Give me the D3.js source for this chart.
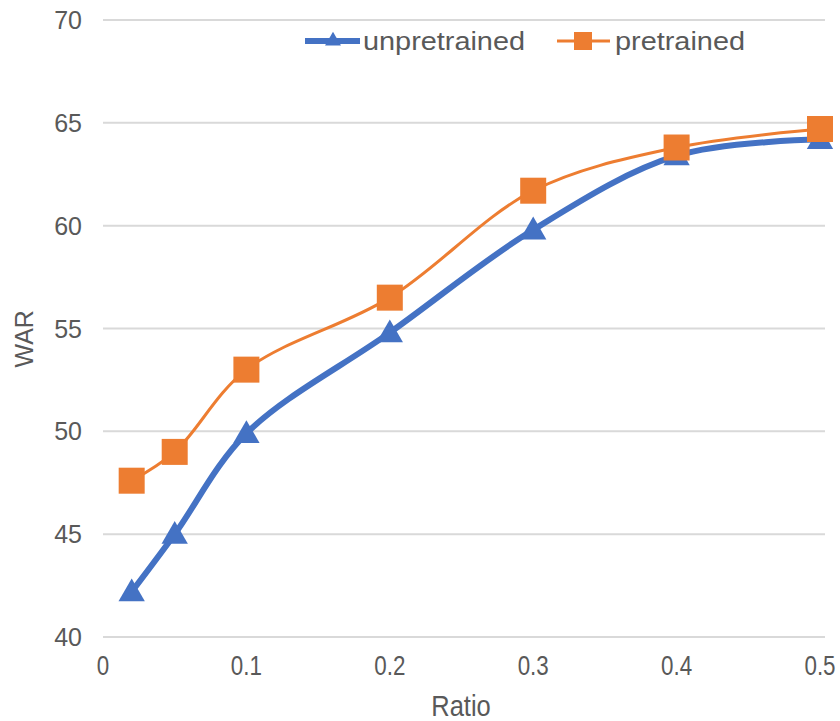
<!DOCTYPE html>
<html>
<head>
<meta charset="utf-8">
<script src="https://cdn.jsdelivr.net/npm/d3@7"></script>
<style>
  body { margin: 0; background: #fff; }
  text { font-family: "Liberation Sans", Arial, sans-serif; fill: #595959; }
</style>
</head>
<body>
<svg id="chart"></svg>
<script>
// Data
const ratios = [0.02, 0.05, 0.1, 0.2, 0.3, 0.4, 0.5];
const unpretrained = [42.2, 45.0, 49.9, 54.8, 59.8, 63.4, 64.2];
const pretrained = [47.6, 49.0, 53.0, 56.5, 61.7, 63.8, 64.7];
const xTicks = [0, 0.1, 0.2, 0.3, 0.4, 0.5];
const yTicks = [40, 45, 50, 55, 60, 65, 70];

const W = 840, H = 721;
const margin = { top: 20, right: 20, bottom: 84, left: 103 };
const width = W - margin.left - margin.right;
const height = H - margin.top - margin.bottom;

const svg = d3.select("#chart")
    .attr("width", W)
    .attr("height", H)
    .append("g")
    .attr("transform", `translate(${margin.left},${margin.top})`);

const x = d3.scaleLinear().domain([0, 0.5]).range([0, 717]);
const y = d3.scaleLinear().domain([40, 70]).range([height, 0]);

// Gridlines
svg.selectAll(".grid")
    .data(yTicks)
    .enter()
    .append("line")
    .attr("x1", 0)
    .attr("x2", 722)
    .attr("y1", d => y(d))
    .attr("y2", d => y(d))
    .attr("stroke", "#d9d9d9")
    .attr("stroke-width", 2);

// Y tick labels
svg.selectAll(".ylab")
    .data(yTicks)
    .enter()
    .append("text")
    .attr("x", -21)
    .attr("y", d => y(d))
    .attr("dy", "0.36em")
    .attr("text-anchor", "end")
    .style("font-size", "25px")
    .text(d => d);

// X tick labels (narrow font in the original)
svg.selectAll(".xlab")
    .data(xTicks)
    .enter()
    .append("text")
    .attr("x", d => x(d))
    .attr("y", height + 38)
    .attr("text-anchor", "middle")
    .style("font-size", "28px")
    .attr("transform", d => `translate(${x(d)},0) scale(0.8,1) translate(${-x(d)},0)`)
    .text(d => d);

// Axis titles
svg.append("text")
    .attr("transform", `translate(358,${height + 79}) scale(0.85,1)`)
    .attr("text-anchor", "middle")
    .style("font-size", "30px")
    .text("Ratio");

svg.append("text")
    .attr("transform", `translate(${-70},${y(54.5)}) rotate(-90)`)
    .attr("text-anchor", "middle")
    .style("font-size", "25px")
    .text("WAR");

const line = d3.line()
    .x((d, i) => x(ratios[i]))
    .y(d => y(d))
    .curve(d3.curveCatmullRom.alpha(0.5));

const blue = "#4472C4", orange = "#ED7D31";
const triangle = d3.symbol().type(d3.symbolTriangle).size(300);

// Unpretrained series
svg.append("path")
    .datum(unpretrained)
    .attr("d", line)
    .attr("fill", "none")
    .attr("stroke", blue)
    .attr("stroke-width", 6);

svg.selectAll(".tri")
    .data(unpretrained)
    .enter()
    .append("path")
    .attr("d", triangle)
    .attr("transform", (d, i) => `translate(${x(ratios[i])},${y(d) + 2})`)
    .attr("fill", blue);

// Pretrained series
svg.append("path")
    .datum(pretrained)
    .attr("d", line)
    .attr("fill", "none")
    .attr("stroke", orange)
    .attr("stroke-width", 3);

svg.selectAll(".sq")
    .data(pretrained)
    .enter()
    .append("rect")
    .attr("x", (d, i) => x(ratios[i]) - 13)
    .attr("y", d => y(d) - 13)
    .attr("width", 26)
    .attr("height", 26)
    .attr("fill", orange);

// Legend
const legend = svg.append("g").attr("transform", `translate(0,${41 - margin.top})`);
legend.append("line")
    .attr("x1", 202).attr("x2", 257).attr("y1", 0).attr("y2", 0)
    .attr("stroke", blue).attr("stroke-width", 6);
legend.append("path")
    .attr("d", d3.symbol().type(d3.symbolTriangle).size(110))
    .attr("transform", "translate(230,0)")
    .attr("fill", blue);
legend.append("text")
    .attr("x", 260).attr("y", 0).attr("dy", "0.35em")
    .style("font-size", "25px")
    .attr("textLength", 162)
    .attr("lengthAdjust", "spacingAndGlyphs")
    .text("unpretrained");

legend.append("line")
    .attr("x1", 454).attr("x2", 507).attr("y1", 0).attr("y2", 0)
    .attr("stroke", orange).attr("stroke-width", 3);
legend.append("rect")
    .attr("x", 471).attr("y", -9).attr("width", 18).attr("height", 18)
    .attr("fill", orange);
legend.append("text")
    .attr("x", 512).attr("y", 0).attr("dy", "0.35em")
    .style("font-size", "25px")
    .attr("textLength", 130)
    .attr("lengthAdjust", "spacingAndGlyphs")
    .text("pretrained");
</script>
</body>
</html>
